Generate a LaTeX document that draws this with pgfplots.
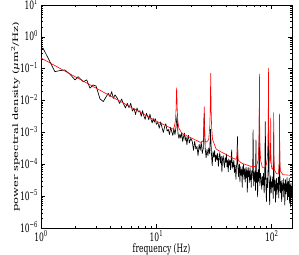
\documentclass[border=0pt]{standalone}
\usepackage{fontspec}
\setmainfont{DejaVu Serif}
\usepackage{pgfplots}
\pgfplotsset{compat=1.18}
\begin{document}
\begin{tikzpicture}
\begin{axis}[
  scale only axis, width=251pt, height=223pt,
  xmode=log, ymode=log,
  xmin=1, xmax=150, ymin=1e-6, ymax=10,
  xtick={1,10,100},
  xticklabels={10\textsuperscript{0},10\textsuperscript{1},10\textsuperscript{2}},
  ytick={1e-6,1e-5,1e-4,1e-3,1e-2,1e-1,1,10},
  yticklabels={10\textsuperscript{−6},10\textsuperscript{−5},10\textsuperscript{−4},10\textsuperscript{−3},10\textsuperscript{−2},10\textsuperscript{−1},10\textsuperscript{0},10\textsuperscript{1}},
  tick align=inside, major tick length=4pt, minor tick length=2pt,
  axis line style={line width=0.6pt},
  every tick/.style={black, line width=0.5pt},
  tick label style={font=\fontsize{11.5}{13}\selectfont, xscale=0.66, inner sep=0.5pt},
  xticklabel style={anchor=base, yshift=-13.2pt},
  yticklabel style={xshift=-4pt, yshift=1pt},
  label style={font=\fontsize{11.5}{13}\selectfont},
  xlabel={frequency (Hz)},
  ylabel={power spectral density (\textit{μ}m\textsuperscript{2}/Hz)},
  xlabel style={at={(axis description cs:0.48,0)}, anchor=base, yshift=-24.4pt, xscale=0.66, inner sep=0.5pt},
  ylabel style={at={(axis description cs:-0.1016,0.5)}, anchor=center, yscale=0.66},
]
\addplot[black, line width=0.65pt, line join=round] table[x=x,y=y] {
x y
1.00 0.389
1.04 0.447
1.32 8.13e-2
1.46 8.71e-2
1.61 9.12e-2
1.78 6.76e-2
1.97 4.47e-2
2.10 5.62e-2
2.33 3.89e-2
2.49 4.47e-2
2.66 2.45e-2
2.83 3.09e-2
3.00 2.88e-2
3.25 1.12e-2
3.47 9.33e-3
3.66 1.29e-2
3.83 1.70e-2
3.97 1.32e-2
4.10 1.91e-2
4.24 1.17e-2
4.38 1.51e-2
4.6 1.17e-2
4.8 8.13e-3
5.0 1.12e-2
5.2 7.76e-3
5.4 5.89e-3
5.6 8.22e-3
5.8 5.96e-3
6.0 8.22e-3
6.2 4.65e-3
6.4 5.75e-3
6.6 3.66e-3
6.8 5.85e-3
7.0 4.40e-3
7.2 4.78e-3
7.4 3.20e-3
7.6 4.81e-3
7.8 3.24e-3
8.0 2.56e-3
8.2 3.94e-3
8.4 3.21e-3
8.6 2.49e-3
8.8 3.77e-3
9.0 2.55e-3
9.2 1.98e-3
9.4 2.75e-3
9.6 2.09e-3
9.8 2.71e-3
10.0 1.80e-3
10.3 2.06e-3
10.6 1.36e-3
10.9 2.14e-3
11.2 1.41e-3
11.5 1.00e-3
11.8 1.51e-3
12.1 1.87e-3
12.4 1.10e-3
12.7 1.24e-3
13.0 8.65e-4
13.3 1.44e-3
13.6 1.05e-3
13.9 8.05e-4
14.2 1.32e-3
14.5 8.59e-4
14.8 1.44e-3
15.1 3.16e-3
15.4 9.51e-4
15.7 6.50e-4
16.0 8.69e-4
16.3 6.68e-4
16.6 1.00e-3
16.9 5.21e-4
17.2 7.14e-4
17.5 9.57e-4
17.8 5.60e-4
18.1 7.33e-4
18.4 4.10e-4
18.7 6.46e-4
19.0 8.09e-4
19.3 4.63e-4
19.6 5.56e-4
19.9 6.50e-4
20.5 5.14e-4
21.0 2.77e-4
21.5 5.31e-4
22.0 3.01e-4
22.5 3.63e-4
23.0 1.88e-4
23.5 4.24e-4
24.0 2.76e-4
24.5 4.97e-4
25.0 2.19e-4
25.5 3.13e-4
26.0 3.98e-3
26.5 3.28e-4
27.0 1.59e-4
27.5 2.94e-4
28.0 1.88e-4
28.5 3.24e-4
29.0 2.13e-4
29.5 1.26e-3
30.0 2.35e-4
30.5 9.10e-5
31.0 2.49e-4
31.5 1.68e-4
32.0 2.71e-4
32.5 1.21e-4
33.0 1.99e-4
33.5 1.37e-4
34.0 2.22e-4
34.5 8.63e-5
35.0 1.60e-4
35.5 2.31e-4
36.0 1.10e-4
36.5 1.79e-4
37.0 5.78e-5
37.5 1.49e-4
38.0 1.87e-4
38.5 1.10e-4
39.0 7.98e-5
39.5 1.60e-4
40.0 1.16e-4
40.5 2.11e-4
41.0 8.39e-5
41.5 1.30e-4
42.0 5.83e-5
42.5 1.47e-4
43.0 9.51e-5
43.5 1.29e-4
44.0 6.78e-5
44.5 1.45e-4
45.0 2.82e-4
45.5 7.50e-5
46.0 1.14e-4
46.5 8.30e-5
47.0 1.35e-4
47.5 5.41e-5
48.0 9.44e-5
48.5 7.03e-5
49.0 3.38e-5
49.5 8.73e-5
50.0 1.03e-4
50.5 7.41e-4
51.0 8.34e-5
51.5 4.13e-5
52.0 6.93e-5
52.5 1.02e-4
53.0 2.83e-5
53.5 5.58e-5
54.0 8.38e-5
54.5 4.55e-5
55.0 6.81e-5
55.5 1.90e-5
56.0 8.39e-5
56.5 4.89e-5
57.0 9.89e-5
57.5 3.39e-5
58.0 5.69e-5
58.5 7.26e-5
59.0 2.79e-5
59.5 5.14e-5
60.0 8.07e-5
60.5 3.82e-5
61.0 6.27e-5
61.5 1.33e-5
62.0 5.11e-5
62.5 8.00e-5
63.0 4.06e-5
63.5 6.22e-5
64.0 2.69e-5
64.5 5.43e-5
65.0 7.94e-5
65.5 3.28e-5
66.0 4.59e-5
66.5 1.90e-5
67.0 6.22e-5
67.5 3.63e-5
68.0 5.20e-5
68.5 7.28e-5
69.0 1.20e-3
69.5 4.02e-5
70.0 2.09e-5
70.5 5.32e-5
71.0 3.10e-5
71.5 6.28e-5
72.0 3.66e-5
72.5 1.51e-5
73.0 5.75e-4
73.5 4.49e-5
74.0 2.62e-5
74.5 5.55e-5
75.0 3.63e-5
75.5 9.46e-6
76.0 5.04e-5
76.5 6.73e-5
77.0 2.91e-5
77.5 7.76e-5
78.0 3.16e-3
78.5 6.79e-5
79.0 2.13e-5
79.5 3.75e-5
80.0 5.25e-5
81 3.27e-5
82 1.63e-5
83 4.23e-5
84 2.25e-5
85 5.21e-5
86 1.24e-5
87 3.45e-5
88 2.19e-3
89 2.69e-5
90 6.68e-6
91 3.72e-5
92 1.85e-5
93 5.77e-5
94 2.00e-3
95 4.00e-5
96 5.35e-6
97 2.31e-5
98 4.36e-5
99 1.30e-5
100 2.82e-5
101 1.89e-5
102 4.03e-5
103 8.36e-6
104 1.00e-3
105 2.44e-5
106 1.46e-5
107 3.25e-5
108 6.46e-6
109 2.03e-5
110 3.59e-5
111 1.13e-5
112 2.51e-5
113 1.65e-5
114 3.94e-5
115 8.75e-6
116 2.19e-5
117 6.31e-4
118 2.72e-5
119 1.26e-5
120 2.88e-5
121 1.82e-5
122 6.73e-6
123 3.14e-5
124 1.50e-5
125 2.26e-5
126 9.42e-6
127 3.57e-5
128 1.67e-5
129 2.46e-5
130 5.25e-6
131 1.95e-5
132 3.30e-5
133 1.17e-5
134 2.32e-5
135 1.40e-5
136 3.84e-5
137 7.64e-6
138 2.05e-5
139 2.89e-5
140 1.02e-5
141 1.82e-5
142 3.61e-5
143 5.98e-6
144 2.27e-5
145 1.27e-5
146 4.51e-6
147 2.53e-5
148 1.59e-5
149 8.93e-6
150 2.00e-5
};
\addplot[red, line width=0.6pt, line join=round] table[x=x,y=y] {
x y
1 0.217
1.5 9.70e-2
2 5.50e-2
3 2.46e-2
4 1.39e-2
5 8.95e-3
6 6.24e-3
7 4.60e-3
8 3.53e-3
10 2.27e-3
12 1.65e-3
14 1.26e-3
14.36 1.57e-3
14.68 2.57e-3
14.84 5.90e-3
14.92 1.31e-2
14.96 2.02e-2
15.0 2.50e-2
15.04 2.02e-2
15.08 1.31e-2
15.16 5.85e-3
15.32 2.50e-3
15.64 1.40e-3
16.6 9.35e-4
18 8.13e-4
20 6.76e-4
22 5.73e-4
24 4.91e-4
25.44 5.35e-4
25.72 7.80e-4
25.86 1.60e-3
25.93 3.37e-3
25.965 5.13e-3
26.0 6.30e-3
26.035 5.13e-3
26.07 3.36e-3
26.14 1.59e-3
26.28 7.60e-4
26.56 5.10e-4
27.2 5.0e-4
28.0 5.5e-4
28.48 6.3e-4
29.04 1.45e-3
29.32 4.57e-3
29.46 1.46e-2
29.53 3.62e-2
29.565 5.77e-2
29.6 7.20e-2
29.635 5.77e-2
29.67 3.62e-2
29.74 1.46e-2
29.88 4.55e-3
30.16 1.42e-3
30.72 6.0e-4
33 3.0e-4
36 2.5e-4
40 2.05e-4
44 1.70e-4
47 1.52e-4
48.5 1.44e-4
49.4 1.50e-4
49.9 1.86e-4
50.15 2.66e-4
50.4 4.10e-4
50.65 2.63e-4
50.9 1.79e-4
51.4 1.33e-4
55 1.08e-4
60 9.70e-5
65 8.71e-5
70 8.4e-5
74 9.0e-5
76.38 1.38e-4
77.34 3.35e-4
77.82 1.12e-3
78.06 4.07e-3
78.18 1.37e-2
78.24 3.41e-2
78.27 5.45e-2
78.3 6.80e-2
78.33 5.45e-2
78.36 3.41e-2
78.42 1.37e-2
78.54 4.07e-3
78.78 1.12e-3
79.26 3.31e-4
80.22 1.31e-4
83 8.0e-5
87 8.0e-5
90 1.0e-4
91.78 1.61e-4
92.74 4.68e-4
93.22 1.68e-3
93.46 6.24e-3
93.58 2.11e-2
93.64 5.26e-2
93.67 8.41e-2
93.7 1.05e-1
93.73 8.41e-2
93.76 5.26e-2
93.82 2.11e-2
93.94 6.24e-3
94.18 1.68e-3
94.66 4.67e-4
95.62 1.60e-4
96.9 1.10e-4
97.6 2.20e-4
97.8 6.0e-4
97.9 1.45e-3
97.95 2.30e-3
98.0 2.80e-3
98.05 2.31e-3
98.1 1.49e-3
98.2 6.6e-4
98.4 2.5e-4
98.8 1.20e-4
100 7.5e-5
102.4 6.9e-5
103.2 1.17e-4
103.6 2.97e-4
103.8 8.8e-4
103.9 2.13e-3
103.95 3.37e-3
104.0 4.20e-3
104.05 3.37e-3
104.1 2.13e-3
104.2 8.8e-4
104.4 2.96e-4
104.8 1.16e-4
105.6 6.8e-5
110 5.07e-5
114 4.95e-5
115.08 6.4e-5
116.04 1.07e-4
116.52 2.69e-4
116.76 7.99e-4
116.88 1.92e-3
116.94 3.05e-3
117.0 3.80e-3
117.06 3.05e-3
117.12 1.92e-3
117.24 7.99e-4
117.48 2.69e-4
117.96 1.06e-4
118.92 6.3e-5
125 4.73e-5
135 4.62e-5
150 4.47e-5
};
\end{axis}
\pgfresetboundingbox
\path[use as bounding box] ([xshift=-41pt,yshift=-27pt]current axis.south west) rectangle ([xshift=7pt,yshift=5pt]current axis.north east);
\end{tikzpicture}
\end{document}
